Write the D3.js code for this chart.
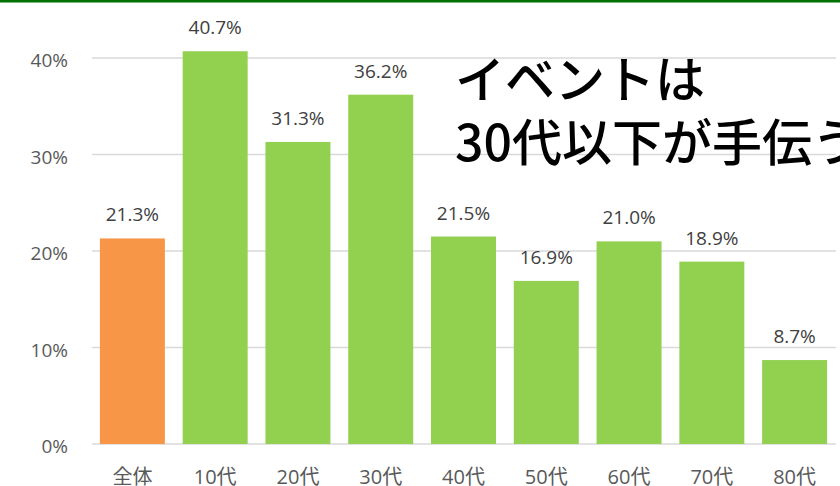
<!DOCTYPE html>
<html>
<head>
<meta charset="utf-8">
<script src="https://cdn.jsdelivr.net/npm/d3@7"></script>
<style>
  html, body { margin: 0; padding: 0; background: #fff; }
  svg { display: block; }
</style>
</head>
<body>
<div id="chart"></div>
<script>
const categories = ["全体", "10代", "20代", "30代", "40代", "50代", "60代", "70代", "80代"];
const values = [0.213, 0.407, 0.313, 0.362, 0.215, 0.169, 0.210, 0.189, 0.087];
const yTicks = [0, 0.1, 0.2, 0.3, 0.4];
const titleLines = ["イベントは", "30代以下が手伝う"];

const width = 840, height = 486;
const font = "'Open Sans', 'Noto Sans CJK JP', sans-serif";
const titleFont = "'Noto Sans CJK JP', sans-serif";

const svg = d3.select("#chart").append("svg")
    .attr("width", width)
    .attr("height", height);

// dark green rule along the top
svg.append("rect")
    .attr("x", 0).attr("y", 0)
    .attr("width", width).attr("height", 2.5)
    .attr("fill", "#007000");

const x = d3.scaleBand()
    .domain(categories)
    .range([91, 836])
    .paddingInner(0.215)
    .paddingOuter(0.1075);

const y = d3.scaleLinear()
    .domain([0, 0.45])
    .range([444, 444 - 0.45 * 965]);

// gridlines
svg.append("g")
    .selectAll("line")
    .data(yTicks)
    .join("line")
      .attr("x1", 92)
      .attr("x2", 836)
      .attr("y1", d => y(d))
      .attr("y2", d => y(d))
      .attr("stroke", "#d9d9d9")
      .attr("stroke-width", 1.5);

// y axis labels
svg.append("g")
    .attr("transform", "translate(68,0)")
    .call(d3.axisLeft(y).tickValues(yTicks).tickSize(0).tickPadding(0).tickFormat(d3.format(".0%")))
    .call(g => g.select(".domain").remove())
    .call(g => g.selectAll("text")
        .attr("dy", "0.45em")
        .attr("fill", "#595959")
        .attr("font-family", font)
        .attr("font-size", 19));

// bars
svg.append("g")
    .selectAll("rect")
    .data(values)
    .join("rect")
      .attr("x", (d, i) => x(categories[i]))
      .attr("y", d => y(d))
      .attr("width", x.bandwidth())
      .attr("height", d => y(0) - y(d))
      .attr("fill", (d, i) => i === 0 ? "#f79646" : "#92d050");

// value labels
svg.append("g")
    .selectAll("text")
    .data(values)
    .join("text")
      .attr("x", (d, i) => x(categories[i]) + x.bandwidth() / 2)
      .attr("y", d => y(d) - 17)
      .attr("text-anchor", "middle")
      .attr("fill", "#404040")
      .attr("font-family", font)
      .attr("font-size", 19)
      .text(d => d3.format(".1%")(d));

// category labels
svg.append("g")
    .attr("transform", "translate(0,444)")
    .call(d3.axisBottom(x).tickSize(0).tickPadding(0))
    .call(g => g.select(".domain").remove())
    .call(g => g.selectAll("text")
        .attr("dy", null)
        .attr("y", 40)
        .attr("fill", "#595959")
        .attr("font-family", font)
        .attr("font-size", 20));

// overlay title
svg.append("g")
    .selectAll("text")
    .data(titleLines)
    .join("text")
      .attr("x", 455)
      .attr("y", (d, i) => 98 + i * 63)
      .attr("fill", "#000")
      .attr("font-family", titleFont)
      .attr("font-weight", 500)
      .attr("font-size", 50)
      .text(d => d);
</script>
</body>
</html>
